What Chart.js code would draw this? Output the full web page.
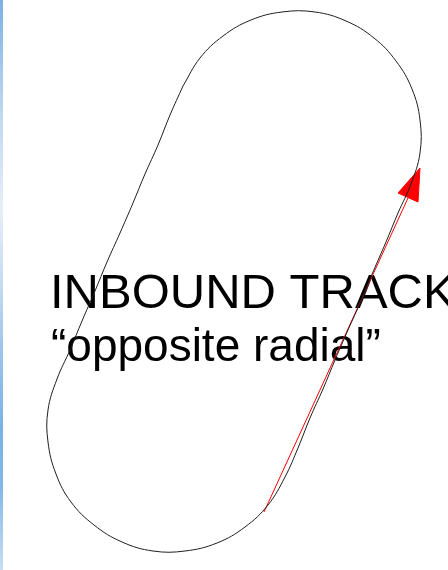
<!DOCTYPE html>
<html>
<head>
<meta charset="utf-8">
<script src="https://cdn.jsdelivr.net/npm/chart.js@4"></script>
<style>
  html, body { margin: 0; padding: 0; background: #fff; }
  canvas { display: block; }
</style>
</head>
<body>
<canvas id="trackChart" width="448" height="570"></canvas>
<script>
// racetrack outline (pixel coords, y down)
const trackX = [183, 200, 223, 251, 282, 315, 346, 374, 396, 412, 420, 420, 411,
                398, 386, 373, 361, 348, 335, 323, 310, 298,
                285, 268, 245, 217, 185, 153, 122, 94, 71, 56, 48, 48, 57,
                70, 82, 95, 107, 120, 133, 145, 158, 170, 183];
const trackY = [86, 58, 36, 20, 12, 12, 21, 38, 61, 89, 120, 153, 184,
                213, 242, 272, 301, 330, 360, 389, 418, 448,
                477, 505, 527, 543, 551, 551, 542, 525, 502, 474, 442, 410, 379,
                350, 321, 291, 262, 233, 203, 174, 145, 115, 86];

// red inbound leg and its arrowhead
const inboundX = [264, 408];
const inboundY = [512, 198];
const arrowX = [420, 398, 418, 420];
const arrowY = [168, 193, 202, 168];

const labelLines = ["INBOUND TRACK", "\u201Copposite radial\u201D"];

const toPoints = (xs, ys) => xs.map((x, i) => ({ x: x, y: ys[i] }));

const sidebarPlugin = {
  id: 'sidebar',
  beforeDraw(chart) {
    const ctx = chart.ctx;
    const grad = ctx.createLinearGradient(0, 0, 0, chart.height);
    grad.addColorStop(0, '#7db0e3');
    grad.addColorStop(0.2, '#c0d8f0');
    grad.addColorStop(0.37, '#e6eef8');
    grad.addColorStop(0.5, '#c4daf1');
    grad.addColorStop(0.62, '#9cc3ea');
    grad.addColorStop(0.75, '#7ab2e5');
    grad.addColorStop(0.85, '#82b6e7');
    grad.addColorStop(1, '#c8def3');
    ctx.save();
    ctx.fillStyle = grad;
    ctx.fillRect(0, 0, 3, chart.height);
    ctx.restore();
  }
};

const labelPlugin = {
  id: 'trackLabel',
  beforeDatasetsDraw(chart) {
    const ctx = chart.ctx;
    ctx.save();
    ctx.fillStyle = '#000';
    ctx.textBaseline = 'alphabetic';
    ctx.font = '49px "Liberation Sans", Arial, sans-serif';
    ctx.fillText(labelLines[0], 50, 308);
    ctx.font = '46px "Liberation Sans", Arial, sans-serif';
    ctx.fillText(labelLines[1], 51, 361);
    ctx.restore();
  }
};

new Chart(document.getElementById('trackChart'), {
  type: 'scatter',
  data: {
    datasets: [
      {
        label: 'Holding pattern',
        data: toPoints(trackX, trackY),
        showLine: true,
        borderColor: '#1e1e1e',
        borderWidth: 1,
        pointRadius: 0,
        tension: 0.4,
        fill: false
      },
      {
        label: 'Inbound track',
        data: toPoints(inboundX, inboundY),
        showLine: true,
        borderColor: '#ff0000',
        borderWidth: 1,
        pointRadius: 0,
        fill: false
      },
      {
        label: 'Arrow',
        data: toPoints(arrowX, arrowY),
        showLine: true,
        borderColor: '#ff0000',
        backgroundColor: '#ff0000',
        borderWidth: 1,
        pointRadius: 0,
        fill: 'shape'
      }
    ]
  },
  options: {
    responsive: false,
    animation: false,
    devicePixelRatio: 1,
    layout: { padding: 0 },
    plugins: {
      legend: { display: false },
      tooltip: { enabled: false }
    },
    scales: {
      x: { type: 'linear', min: 0, max: 448, display: false },
      y: { type: 'linear', min: 0, max: 570, reverse: true, display: false }
    }
  },
  plugins: [sidebarPlugin, labelPlugin]
});
</script>
</body>
</html>
